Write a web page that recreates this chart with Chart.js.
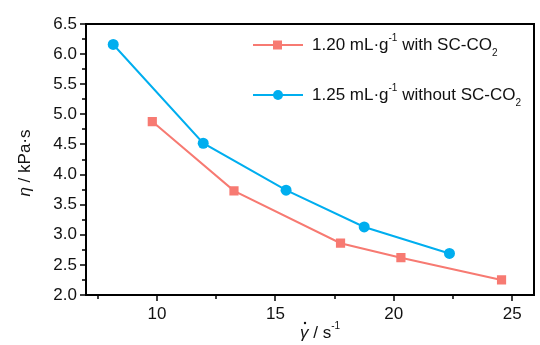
<!DOCTYPE html>
<html>
<head>
<meta charset="utf-8">
<script src="https://cdn.jsdelivr.net/npm/chart.js@4.4.0/dist/chart.umd.min.js"></script>
<style>
  html, body { margin: 0; padding: 0; background: #fff; }
  #wrap { width: 540px; height: 345px; }
</style>
</head>
<body>
<div id="wrap"><canvas id="chart" width="540" height="345"></canvas></div>
<script>
// shear rate (s^-1) and viscosity (kPa·s)
const shearRate120 = [9.8, 13.25, 17.75, 20.3, 24.55];
const visc120 = [4.88, 3.73, 2.86, 2.62, 2.25];
const shearRate125 = [8.15, 11.95, 15.45, 18.75, 22.35];
const visc125 = [6.16, 4.52, 3.74, 3.13, 2.69];

const xTicks = [7.5, 10, 12.5, 15, 17.5, 20, 22.5, 25];
const yTicks = [2.0, 2.25, 2.5, 2.75, 3.0, 3.25, 3.5, 3.75, 4.0, 4.25, 4.5, 4.75, 5.0, 5.25, 5.5, 5.75, 6.0, 6.25, 6.5];

const RED = '#F77A72';
const BLUE = '#00AEEF';
const FONT = '"Liberation Sans", Arial, sans-serif';

const toPoints = (xs, ys) => xs.map((x, i) => ({ x: x, y: ys[i] }));
const isMajorY = v => Math.abs(v * 2 - Math.round(v * 2)) < 1e-6;

// draw text runs with super/subscripts
const drawRuns = (ctx, runs, x, y) => {
    runs.forEach(r => {
        ctx.font = (r.italic ? 'italic ' : '') + r.size + 'px ' + FONT;
        ctx.fillText(r.t, x, y + (r.dy || 0));
        x += ctx.measureText(r.t).width;
    });
    return x;
};

const framePlugin = {
    id: 'frame',
    afterDraw(chart) {
        const { ctx, scales } = chart;
        const L = Math.round(scales.x.left), R = Math.round(scales.x.right);
        const T = Math.round(scales.y.top), B = Math.round(scales.y.bottom);
        ctx.save();
        ctx.fillStyle = '#000';
        ctx.fillRect(L - 1, T - 1, R - L + 2, 2);   // top
        ctx.fillRect(L - 1, B - 1, R - L + 2, 2);   // bottom
        ctx.fillRect(L - 1, T - 1, 2, B - T + 2);   // left
        ctx.fillRect(R - 1, T - 1, 2, B - T + 2);   // right

        xTicks.forEach(v => {
            const px = Math.round(scales.x.getPixelForValue(v));
            const len = v % 5 === 0 ? 5 : 3;
            ctx.fillRect(px - 0.75, B, 1.5, len + 1);
        });
        yTicks.forEach(v => {
            const py = Math.round(scales.y.getPixelForValue(v));
            const len = isMajorY(v) ? 5 : 3;
            ctx.fillRect(L - len - 1, py - 0.75, len + 1, 1.5);
        });

        // legend
        ctx.textBaseline = 'middle';
        ctx.textAlign = 'left';
        const items = [
            { color: RED, square: true, y: 45, runs: [
                { t: '1.20 mL\u00b7g', size: 17 }, { t: '-1', size: 10, dy: -7 },
                { t: ' with SC-CO', size: 17 }, { t: '2', size: 10, dy: 8 }] },
            { color: BLUE, square: false, y: 95, runs: [
                { t: '1.25 mL\u00b7g', size: 17 }, { t: '-1', size: 10, dy: -7 },
                { t: ' without SC-CO', size: 17 }, { t: '2', size: 10, dy: 8 }] }
        ];
        items.forEach(it => {
            ctx.strokeStyle = it.color;
            ctx.fillStyle = it.color;
            ctx.lineWidth = 2;
            ctx.beginPath();
            ctx.moveTo(253, it.y);
            ctx.lineTo(303, it.y);
            ctx.stroke();
            if (it.square) {
                ctx.fillRect(273, it.y - 4.5, 9, 9);
            } else {
                ctx.beginPath();
                ctx.arc(278, it.y, 5, 0, Math.PI * 2);
                ctx.fill();
            }
            ctx.fillStyle = '#111';
            drawRuns(ctx, it.runs, 312, it.y);
        });

        // axis titles
        ctx.fillStyle = '#111';
        ctx.textBaseline = 'alphabetic';
        let x = drawRuns(ctx, [{ t: '\u03b3', size: 17, italic: true }], 300, 338);
        ctx.beginPath();
        ctx.arc(x - 3.5, 323, 1.2, 0, Math.PI * 2);
        ctx.fill();
        x = drawRuns(ctx, [{ t: ' / s', size: 17 }], x, 338);
        drawRuns(ctx, [{ t: '-1', size: 10, dy: -9 }], x, 338);

        ctx.translate(30, 163);
        ctx.rotate(-Math.PI / 2);
        ctx.font = '17px ' + FONT;
        const w = ctx.measureText('\u03b7 / kPa\u00b7s').width;
        drawRuns(ctx, [{ t: '\u03b7', size: 17, italic: true }, { t: ' / kPa\u00b7s', size: 17 }], -w / 2, 0);
        ctx.restore();
    }
};

new Chart(document.getElementById('chart'), {
    type: 'scatter',
    data: {
        datasets: [
            {
                label: '1.20 mL·g-1 with SC-CO2',
                data: toPoints(shearRate120, visc120),
                showLine: true,
                borderColor: RED,
                backgroundColor: RED,
                borderWidth: 2,
                pointStyle: 'rect',
                pointRadius: 6.5,
                pointBorderWidth: 0
            },
            {
                label: '1.25 mL·g-1 without SC-CO2',
                data: toPoints(shearRate125, visc125),
                showLine: true,
                borderColor: BLUE,
                backgroundColor: BLUE,
                borderWidth: 2,
                pointStyle: 'circle',
                pointRadius: 5.5,
                pointBorderWidth: 0
            }
        ]
    },
    options: {
        responsive: false,
        animation: false,
        layout: { padding: { top: 24, right: 2, left: 0, bottom: 0 } },
        plugins: { legend: { display: false }, tooltip: { enabled: false } },
        scales: {
            x: {
                type: 'linear',
                min: 7,
                max: 25.9,
                afterBuildTicks: s => { s.ticks = xTicks.map(v => ({ value: v })); },
                afterFit: s => { s.height = 50; },
                grid: { display: false, drawTicks: false },
                border: { display: false },
                ticks: {
                    padding: 9,
                    color: '#111',
                    font: { family: FONT, size: 17 },
                    callback: v => (v % 5 === 0 ? String(v) : '')
                }
            },
            y: {
                type: 'linear',
                min: 2.0,
                max: 6.5,
                afterBuildTicks: s => { s.ticks = yTicks.map(v => ({ value: v })); },
                afterFit: s => { s.width = 86; },
                grid: { display: false, drawTicks: false },
                border: { display: false },
                ticks: {
                    padding: 9,
                    color: '#111',
                    font: { family: FONT, size: 17 },
                    callback: v => (isMajorY(v) ? v.toFixed(1) : '')
                }
            }
        }
    },
    plugins: [framePlugin]
});
</script>
</body>
</html>
